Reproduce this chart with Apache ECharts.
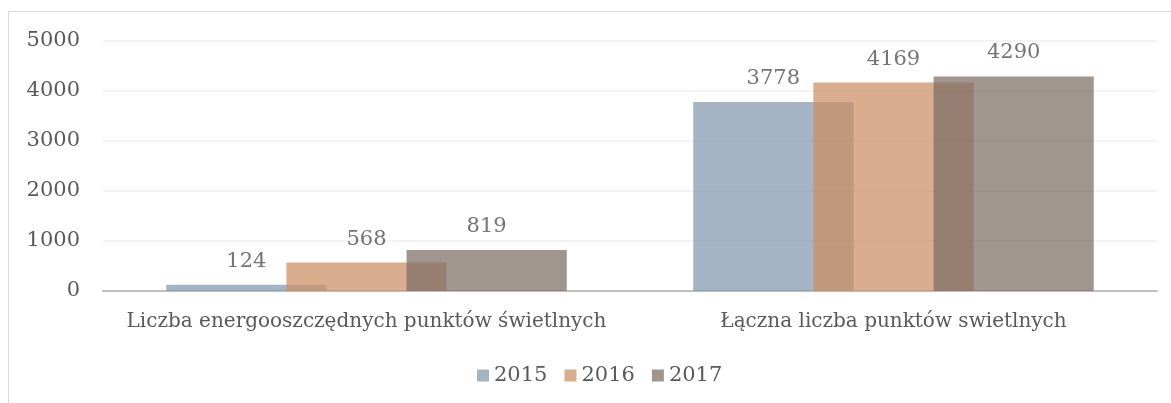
<!DOCTYPE html>
<html>
<head>
<meta charset="utf-8">
<script src="https://cdn.jsdelivr.net/npm/echarts@6/dist/echarts.min.js"></script>
<style>
  html, body { margin: 0; padding: 0; background: #fff; }
  #chart { width: 1171px; height: 403px; }
</style>
</head>
<body>
<div id="chart"></div>
<script>
// data
var categories = ['Liczba energooszczędnych punktów świetlnych', 'Łączna liczba punktów swietlnych'];
var years = ['2015', '2016', '2017'];
var values2015 = [124, 3778];
var values2016 = [568, 4169];
var values2017 = [819, 4290];
var yTicks = [0, 1000, 2000, 3000, 4000, 5000];

var colors = ['#8298ae', '#cb8f64', '#7d6e65'];
var fontName = 'DejaVu Serif';

function BarSeries(name, data, color) {
	return {
		name : name,
		type : 'bar',
		data : data,
		barGap : '-25%',
		barCategoryGap : '24%',
		itemStyle : { color : color, opacity : 0.73 },
		label : {
			show : true,
			position : 'top',
			distance : 13,
			color : '#404040',
			fontFamily : fontName,
			fontSize : 21
		}
	};
}

var myChart = echarts.init(document.getElementById('chart'));

var chartOption = {
	animation : false,
	color : colors,
	graphic : [{
		type : 'rect',
		shape : { x : 8.5, y : 11.5, width : 1200, height : 420 },
		style : { fill : 'none', stroke : '#d9d9d9', lineWidth : 1 },
		silent : true
	}],
	grid : { left : 103, right : 14, top : 41, bottom : 112 },
	legend : {
		data : years,
		left : 472,
		top : 360,
		itemWidth : 12,
		itemHeight : 12,
		itemGap : 17,
		icon : 'rect',
		textStyle : { color : '#595959', fontFamily : fontName, fontSize : 21 }
	},
	xAxis : {
		type : 'category',
		data : categories,
		axisLine : { lineStyle : { color : '#bfbfbf', width : 2 } },
		axisTick : { show : false },
		axisLabel : { interval : 0, color : '#595959', fontFamily : fontName, fontSize : 20, margin : 21 }
	},
	yAxis : {
		type : 'value',
		min : yTicks[0],
		max : yTicks[yTicks.length - 1],
		interval : 1000,
		axisLine : { show : false },
		axisTick : { show : false },
		splitLine : { lineStyle : { color : '#efefef', width : 1.5 } },
		axisLabel : {
			color : '#595959', fontFamily : fontName, fontSize : 21, margin : 23,
			formatter : function (v) { return String(v); }
		}
	},
	series : [
		BarSeries(years[0], values2015, colors[0]),
		BarSeries(years[1], values2016, colors[1]),
		BarSeries(years[2], values2017, colors[2])
	]
};

myChart.setOption(chartOption);
</script>
</body>
</html>
